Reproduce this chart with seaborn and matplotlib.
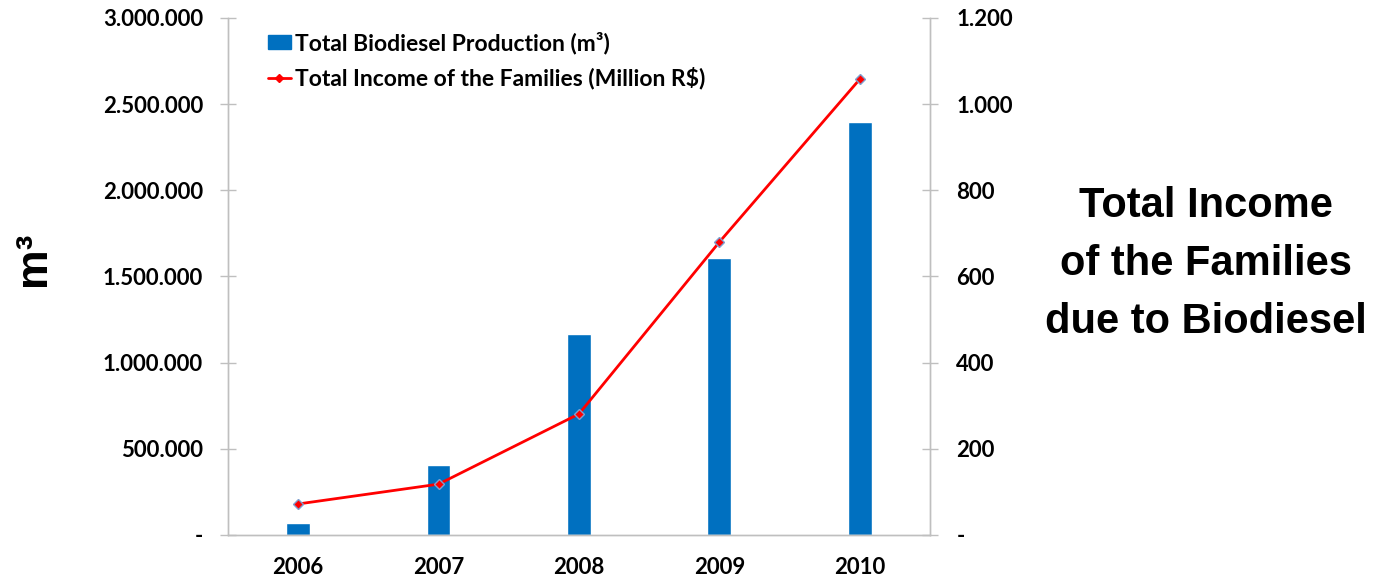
import matplotlib
matplotlib.use("Agg")
import matplotlib.pyplot as plt
import matplotlib.ticker as mticker
from matplotlib.lines import Line2D
from matplotlib.patches import Patch
import seaborn as sns
import pandas as pd

years = ["2006", "2007", "2008", "2009", "2010"]
production_m3 = [69000, 404000, 1167000, 1608000, 2397000]
family_income_mrs = [72, 118, 281, 680, 1058]

left_ticks = [0, 500000, 1000000, 1500000, 2000000, 2500000, 3000000]
right_ticks = [0, 200, 400, 600, 800, 1000, 1200]

sns.set_theme(style="white")
plt.rcParams["font.family"] = ["Lato", "DejaVu Sans"]

df = pd.DataFrame({"year": years, "prod": production_m3, "income": family_income_mrs})

fig = plt.figure(figsize=(13.79, 5.76), dpi=100)
ax = fig.add_axes([0.1653, 0.0712, 0.5091, 0.8976])

bar_color = "#0070C0"
line_color = "#FF0000"
grey = "#BFBFBF"

sns.barplot(data=df, x="year", y="prod", color=bar_color, width=0.17,
            saturation=1, ax=ax)
ax.set_ylim(0, 3000000)
ax.set_xlim(-0.5, 4.5)

ax2 = ax.twinx()
sns.pointplot(data=df, x="year", y="income", color=line_color, markers="D",
              linewidth=2, markersize=5, ax=ax2)
for ln in ax2.lines:
    ln.set_markeredgecolor("#7F9FCF")
    ln.set_markeredgewidth(1.0)
ax2.set_ylim(0, 1200)
ax2.set_xlim(-0.5, 4.5)


def thousands(v, _):
    if v == 0:
        return "-"
    return f"{int(round(v)):,}".replace(",", ".")


for a, ticks in ((ax, left_ticks), (ax2, right_ticks)):
    a.set_yticks(ticks)
    a.yaxis.set_major_formatter(mticker.FuncFormatter(thousands))
    a.set_xlabel("")
    a.set_ylabel("")
    a.grid(False)
    for s in a.spines.values():
        s.set_color(grey)
        s.set_linewidth(1.0)
    a.spines["top"].set_visible(False)

ax.tick_params(axis="y", direction="inout", length=12, width=1, color=grey,
               labelsize=16, pad=12)
ax2.tick_params(axis="y", direction="inout", length=12, width=1, color=grey,
                labelsize=16, pad=13)
ax.tick_params(axis="x", which="major", length=0, labelsize=16, pad=16)
ax.set_xticks([0.5, 1.5, 2.5, 3.5], minor=True)
ax.tick_params(axis="x", which="minor", direction="out", length=9, width=1,
               color=grey)
for lab in ax.get_xticklabels() + ax.get_yticklabels() + ax2.get_yticklabels():
    lab.set_fontweight("bold")
    lab.set_color("black")

handles = [
    Patch(facecolor=bar_color, edgecolor=bar_color),
    Line2D([0], [0], color=line_color, lw=2, marker="D", markersize=4,
           markerfacecolor=line_color, markeredgecolor=line_color),
]
labels = ["Total Biodiesel Production (m³)",
          "Total Income of the Families (Million R$)"]
leg = ax2.legend(handles, labels, loc="upper left", bbox_to_anchor=(0.034, 1.005),
                 frameon=False, prop={"weight": "bold", "size": 16.5},
                 handlelength=1.0, handleheight=0.55, handletextpad=0.2,
                 labelspacing=0.55, borderaxespad=0.3)
for t in leg.get_texts():
    t.set_color("black")

fig.text(0.024, 0.55, "m³", rotation=90, ha="center", va="center",
         fontsize=32, fontweight="bold", color="black",
         family=["Liberation Sans", "DejaVu Sans"])
fig.text(0.8745, 1 - 333 / 576, "Total Income\nof the Families\ndue to Biodiesel",
         ha="center", va="baseline", fontsize=30, fontweight="bold",
         color="black", linespacing=1.58,
         family=["Liberation Sans", "DejaVu Sans"])

fig.savefig("out.png", dpi=100)
